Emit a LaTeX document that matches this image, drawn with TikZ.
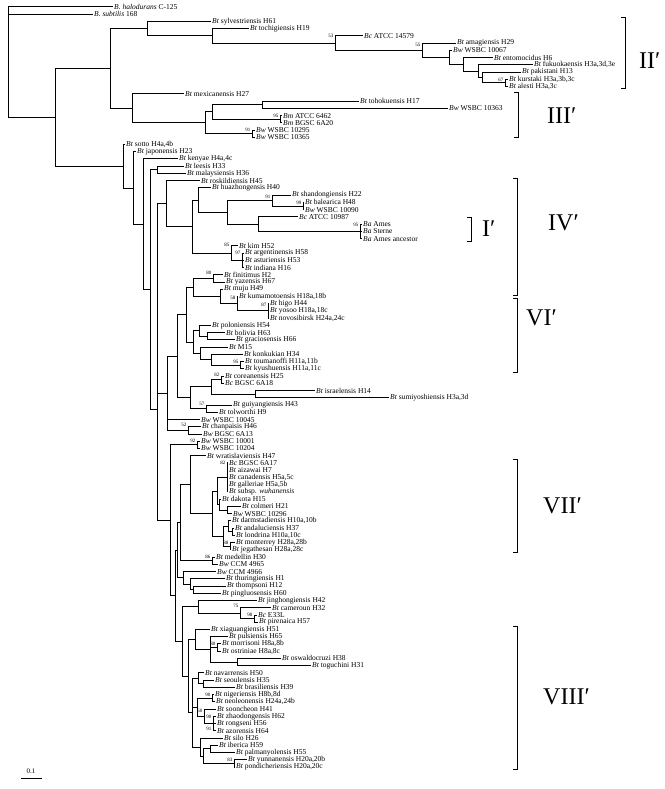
\documentclass[tikz,border=0pt]{standalone}
\usepackage{fontspec}
\setmainfont{Liberation Serif}
\newcommand{\lvy}[1]{7+7.238*(#1)}
\begin{document}
\begin{tikzpicture}[x=1pt,y=-1pt,
  lf/.style={anchor=west, inner sep=1pt, font=\fontsize{7.5}{8}\selectfont},
  bs/.style={anchor=east, inner sep=0.4pt, font=\fontsize{5}{6}\selectfont},
  tree/.style={line width=1pt},
  brk/.style={line width=0.9pt},
  cl/.style={anchor=west, inner sep=0pt, font=\fontsize{24}{26}\selectfont}]
\useasboundingbox (0,0) rectangle (664,789);
% ---------- leaves ----------
\node[lf] (hal) at (113,{\lvy{0}}) {\textit{B. halodurans} C-125};
\node[lf] (sub) at (93,{\lvy{1}}) {\textit{B. subtilis} 168};
\node[lf] (syl) at (211,{\lvy{2}}) {\textit{Bt} sylvestriensis H61};
\node[lf] (toc) at (249,{\lvy{3}}) {\textit{Bt} tochigiensis H19};
\node[lf] (bcA) at (363,{\lvy{4}}) {\textit{Bc} ATCC 14579};
\node[lf] (ama) at (456,{\lvy{5}}) {\textit{Bt} amagiensis H29};
\node[lf] (wA) at (452,{\lvy{6}}) {\textit{Bw} WSBC 10067};
\node[lf] (ent) at (493,{\lvy{7}}) {\textit{Bt} entomocidus H6};
\node[lf] (fuk) at (533,{\lvy{8}}) {\textit{Bt} fukuokaensis H3a,3d,3e};
\node[lf] (pak) at (521,{\lvy{9}}) {\textit{Bt} pakistani H13};
\node[lf] (kur) at (508,{\lvy{10}}) {\textit{Bt} kurstaki H3a,3b,3c};
\node[lf] (ale) at (508,{\lvy{11}}) {\textit{Bt} alesti H3a,3c};
\node[lf] (mex) at (184,{\lvy{12}}) {\textit{Bt} mexicanensis H27};
\node[lf] (toh) at (359,{\lvy{13}}) {\textit{Bt} tohokuensis H17};
\node[lf] (wB) at (448,{\lvy{14}}) {\textit{Bw} WSBC 10363};
\node[lf] (bmA) at (282,{\lvy{15}}) {\textit{Bm} ATCC 6462};
\node[lf] (bmB) at (282,{\lvy{16}}) {\textit{Bm} BGSC 6A20};
\node[lf] (wC) at (255,{\lvy{17}}) {\textit{Bw} WSBC 10295};
\node[lf] (wD) at (255,{\lvy{18}}) {\textit{Bw} WSBC 10365};
\node[lf] (sot) at (125,{\lvy{19}}) {\textit{Bt} sotto H4a,4b};
\node[lf] (jap) at (136,{\lvy{20}}) {\textit{Bt} japonensis H23};
\node[lf] (ken) at (178,{\lvy{21}}) {\textit{Bt} kenyae H4a,4c};
\node[lf] (lee) at (184,{\lvy{22}}) {\textit{Bt} leesis H33};
\node[lf] (mal) at (186,{\lvy{23}}) {\textit{Bt} malaysiensis H36};
\node[lf] (ros) at (200,{\lvy{24}}) {\textit{Bt} roskildiensis H45};
\node[lf] (hua) at (211,{\lvy{25}}) {\textit{Bt} huazhongensis H40};
\node[lf] (sha) at (291,{\lvy{26}}) {\textit{Bt} shandongiensis H22};
\node[lf] (bal) at (304,{\lvy{27}}) {\textit{Bt} balearica H48};
\node[lf] (wE) at (304,{\lvy{28}}) {\textit{Bw} WSBC 10090};
\node[lf] (bcB) at (298,{\lvy{29}}) {\textit{Bc} ATCC 10987};
\node[lf] (ames) at (362,{\lvy{30}}) {\textit{Ba} Ames};
\node[lf] (ste) at (362,{\lvy{31}}) {\textit{Ba} Sterne};
\node[lf] (anc) at (362,{\lvy{32}}) {\textit{Ba} Ames ancestor};
\node[lf] (kim) at (238,{\lvy{33}}) {\textit{Bt} kim H52};
\node[lf] (arg) at (244,{\lvy{34}}) {\textit{Bt} argentinensis H58};
\node[lf] (ast) at (244,{\lvy{35}}) {\textit{Bt} asturiensis H53};
\node[lf] (ind) at (244,{\lvy{36}}) {\textit{Bt} indiana H16};
\node[lf] (fin) at (223,{\lvy{37}}) {\textit{Bt} finitimus H2};
\node[lf] (yaz) at (225,{\lvy{38}}) {\textit{Bt} yazensis H67};
\node[lf] (muj) at (223,{\lvy{39}}) {\textit{Bt} muju H49};
\node[lf] (kum) at (238,{\lvy{40}}) {\textit{Bt} kumamotoensis H18a,18b};
\node[lf] (hig) at (269,{\lvy{41}}) {\textit{Bt} higo H44};
\node[lf] (yos) at (269,{\lvy{42}}) {\textit{Bt} yosoo H18a,18c};
\node[lf] (nov) at (269,{\lvy{43}}) {\textit{Bt} novosibirsk H24a,24c};
\node[lf] (pol) at (211,{\lvy{44}}) {\textit{Bt} poloniensis H54};
\node[lf] (bol) at (225,{\lvy{45}}) {\textit{Bt} bolivia H63};
\node[lf] (gra) at (235,{\lvy{46}}) {\textit{Bt} graciosensis H66};
\node[lf] (mfi) at (228,{\lvy{47}}) {\textit{Bt} M15};
\node[lf] (kon) at (243,{\lvy{48}}) {\textit{Bt} konkukian H34};
\node[lf] (tou) at (244,{\lvy{49}}) {\textit{Bt} toumanoffi H11a,11b};
\node[lf] (kyu) at (244,{\lvy{50}}) {\textit{Bt} kyushuensis H11a,11c};
\node[lf] (cor) at (224,{\lvy{51}}) {\textit{Bt} coreanensis H25};
\node[lf] (bcC) at (224,{\lvy{52}}) {\textit{Bc} BGSC 6A18};
\node[lf] (isr) at (315,{\lvy{53}}) {\textit{Bt} israelensis H14};
\node[lf] (sum) at (389,{\lvy{54}}) {\textit{Bt} sumiyoshiensis H3a,3d};
\node[lf] (gui) at (232,{\lvy{55}}) {\textit{Bt} guiyangiensis H43};
\node[lf] (tol) at (218,{\lvy{56}}) {\textit{Bt} tolworthi H9};
\node[lf] (wF) at (200,{\lvy{57}}) {\textit{Bw} WSBC 10045};
\node[lf] (cha) at (201,{\lvy{58}}) {\textit{Bt} chanpaisis H46};
\node[lf] (bwA) at (202,{\lvy{59}}) {\textit{Bw} BGSC 6A13};
\node[lf] (wG) at (200,{\lvy{60}}) {\textit{Bw} WSBC 10001};
\node[lf] (wH) at (200,{\lvy{61}}) {\textit{Bw} WSBC 10204};
\node[lf] (wra) at (206,{\lvy{62}}) {\textit{Bt} wratislaviensis H47};
\node[lf] (bcD) at (228,{\lvy{63}}) {\textit{Bc} BGSC 6A17};
\node[lf] (aiz) at (228,{\lvy{64}}) {\textit{Bt} aizawai H7};
\node[lf] (can) at (228,{\lvy{65}}) {\textit{Bt} canadensis H5a,5c};
\node[lf] (gal) at (228,{\lvy{66}}) {\textit{Bt} galleriae H5a,5b};
\node[lf] (wuh) at (228,{\lvy{67}}) {\textit{Bt} subsp. \textit{wuhanensis}};
\node[lf] (dak) at (221,{\lvy{68}}) {\textit{Bt} dakota H15};
\node[lf] (col) at (241,{\lvy{69}}) {\textit{Bt} colmeri H21};
\node[lf] (wI) at (232,{\lvy{70}}) {\textit{Bw} WSBC 10296};
\node[lf] (dar) at (231,{\lvy{71}}) {\textit{Bt} darmstadiensis H10a,10b};
\node[lf] (anda) at (234,{\lvy{72}}) {\textit{Bt} andaluciensis H37};
\node[lf] (lon) at (235,{\lvy{73}}) {\textit{Bt} londrina H10a,10c};
\node[lf] (mon) at (235,{\lvy{74}}) {\textit{Bt} monterrey H28a,28b};
\node[lf] (jeg) at (231,{\lvy{75}}) {\textit{Bt} jegathesan H28a,28c};
\node[lf] (med) at (215,{\lvy{76}}) {\textit{Bt} medellin H30};
\node[lf] (ccA) at (218,{\lvy{77}}) {\textit{Bw} CCM 4965};
\node[lf] (ccB) at (216,{\lvy{78}}) {\textit{Bw} CCM 4966};
\node[lf] (thu) at (225,{\lvy{79}}) {\textit{Bt} thuringiensis H1};
\node[lf] (thp) at (226,{\lvy{80}}) {\textit{Bt} thompsoni H12};
\node[lf] (pin) at (221,{\lvy{81}}) {\textit{Bt} pingluosensis H60};
\node[lf] (jin) at (257,{\lvy{82}}) {\textit{Bt} jinghongiensis H42};
\node[lf] (cam) at (271,{\lvy{83}}) {\textit{Bt} cameroun H32};
\node[lf] (eel) at (257,{\lvy{84}}) {\textit{Bc} E33L};
\node[lf] (pir) at (258,{\lvy{85}}) {\textit{Bt} pirenaica H57};
\node[lf] (xia) at (210,{\lvy{86}}) {\textit{Bt} xiaguangiensis H51};
\node[lf] (pul) at (228,{\lvy{87}}) {\textit{Bt} pulsiensis H65};
\node[lf] (mor) at (221,{\lvy{88}}) {\textit{Bt} morrisoni H8a,8b};
\node[lf] (ost) at (221,{\lvy{89}}) {\textit{Bt} ostriniae H8a,8c};
\node[lf] (osw) at (281,{\lvy{90}}) {\textit{Bt} oswaldocruzi H38};
\node[lf] (tog) at (311,{\lvy{91}}) {\textit{Bt} toguchini H31};
\node[lf] (nav) at (204,{\lvy{92}}) {\textit{Bt} navarrensis H50};
\node[lf] (seo) at (214,{\lvy{93}}) {\textit{Bt} seoulensis H35};
\node[lf] (bra) at (235,{\lvy{94}}) {\textit{Bt} brasiliensis H39};
\node[lf] (nig) at (214,{\lvy{95}}) {\textit{Bt} nigeriensis H8b,8d};
\node[lf] (neo) at (215,{\lvy{96}}) {\textit{Bt} neoleonensis H24a,24b};
\node[lf] (soo) at (216,{\lvy{97}}) {\textit{Bt} sooncheon H41};
\node[lf] (zha) at (216,{\lvy{98}}) {\textit{Bt} zhaodongensis H62};
\node[lf] (ron) at (216,{\lvy{99}}) {\textit{Bt} rongseni H56};
\node[lf] (azo) at (216,{\lvy{100}}) {\textit{Bt} azorensis H64};
\node[lf] (sil) at (223,{\lvy{101}}) {\textit{Bt} silo H26};
\node[lf] (ibe) at (218,{\lvy{102}}) {\textit{Bt} iberica H59};
\node[lf] (pal) at (235,{\lvy{103}}) {\textit{Bt} palmanyolensis H55};
\node[lf] (yun) at (247,{\lvy{104}}) {\textit{Bt} yunnanensis H20a,20b};
\node[lf] (pon) at (235,{\lvy{105}}) {\textit{Bt} pondicheriensis H20a,20c};
% ---------- internal nodes ----------
\coordinate (root) at (8,{\lvy{7.6}});
\coordinate (A) at (55,{\lvy{15.25}});
\coordinate (B) at (110,{\lvy{8.5}});
\coordinate (C) at (147,{\lvy{2.998}});
\coordinate (E) at (212,{\lvy{3.996}});
\coordinate (F) at (335,{\lvy{4.992}});
\coordinate (G) at (422,{\lvy{5.984}});
\coordinate (H) at (449,{\lvy{6.969}});
\coordinate (I) at (463,{\lvy{7.9375}});
\coordinate (J) at (478,{\lvy{8.875}});
\coordinate (K) at (482,{\lvy{9.75}});
\coordinate (L) at (505,{\lvy{10.5}});
\coordinate (D) at (132,{\lvy{14}});
\coordinate (M) at (205,{\lvy{16}});
\coordinate (O) at (212,{\lvy{14.5}});
\coordinate (N) at (262,{\lvy{13.5}});
\coordinate (P) at (280,{\lvy{15.5}});
\coordinate (Q) at (252,{\lvy{17.5}});
\coordinate (R) at (123,{\lvy{22.0}});
\coordinate (S) at (133,{\lvy{25.01}});
\coordinate (T) at (143,{\lvy{30.03}});
\coordinate (U) at (150,{\lvy{39.05}});
\coordinate (V) at (157,{\lvy{22.5}});
\coordinate (Wp) at (157,{\lvy{55.6}});
\coordinate (W) at (157,{\lvy{40.28}});
\coordinate (WA) at (166,{\lvy{27.17}});
\coordinate (XA) at (192,{\lvy{30.34}});
\coordinate (Y) at (198,{\lvy{26.69}});
\coordinate (YB) at (227,{\lvy{28.375}});
\coordinate (AB) at (272,{\lvy{26.75}});
\coordinate (AC) at (303,{\lvy{27.5}});
\coordinate (AA) at (258,{\lvy{30}});
\coordinate (nAm) at (360,{\lvy{31}});
\coordinate (Z) at (231,{\lvy{34}});
\coordinate (AD) at (242,{\lvy{35}});
\coordinate (Xg) at (167,{\lvy{53.38}});
\coordinate (Xh) at (177,{\lvy{48.27}});
\coordinate (VIab) at (186,{\lvy{42.53}});
\coordinate (VIa) at (193,{\lvy{38.75}});
\coordinate (fy) at (213,{\lvy{37.5}});
\coordinate (mm) at (220,{\lvy{40}});
\coordinate (km) at (237,{\lvy{41}});
\coordinate (kh) at (268,{\lvy{42}});
\coordinate (VIb) at (193,{\lvy{46.31}});
\coordinate (pbg) at (199,{\lvy{44.75}});
\coordinate (bg) at (207,{\lvy{45.5}});
\coordinate (mkt) at (200,{\lvy{47.875}});
\coordinate (ktk) at (211,{\lvy{48.75}});
\coordinate (tk) at (240,{\lvy{49.5}});
\coordinate (Xi) at (190,{\lvy{54}});
\coordinate (cb) at (211,{\lvy{52.5}});
\coordinate (nbA) at (221,{\lvy{51.5}});
\coordinate (isn) at (255,{\lvy{53.5}});
\coordinate (nfs) at (206,{\lvy{55.5}});
\coordinate (ch) at (188,{\lvy{58.5}});
\coordinate (Xj) at (170,{\lvy{70.93}});
\coordinate (nnt) at (197,{\lvy{60.5}});
\coordinate (Xk) at (175,{\lvy{81.36}});
\coordinate (Xl) at (177,{\lvy{75.06}});
\coordinate (Xm) at (180,{\lvy{71.25}});
\coordinate (Xn) at (190,{\lvy{66}});
\coordinate (Xo) at (212,{\lvy{70}});
\coordinate (ga) at (217,{\lvy{66.875}});
\coordinate (nbB) at (227,{\lvy{65}});
\coordinate (dcw) at (219,{\lvy{68.75}});
\coordinate (dcwa) at (227,{\lvy{69.5}});
\coordinate (dm) at (223,{\lvy{73.125}});
\coordinate (dd) at (228,{\lvy{71.75}});
\coordinate (alo) at (232,{\lvy{72.5}});
\coordinate (nee) at (230,{\lvy{74.5}});
\coordinate (nes) at (212,{\lvy{76.5}});
\coordinate (Ct) at (183,{\lvy{78.875}});
\coordinate (tt) at (190,{\lvy{79.75}});
\coordinate (tp) at (193,{\lvy{80.5}});
\coordinate (Xp) at (182,{\lvy{87.66}});
\coordinate (jg) at (198,{\lvy{82.875}});
\coordinate (nsf) at (240,{\lvy{83.75}});
\coordinate (ce) at (254,{\lvy{84.5}});
\coordinate (Xq) at (188,{\lvy{92.44}});
\coordinate (xp) at (195,{\lvy{87.375}});
\coordinate (pmo) at (210,{\lvy{88.75}});
\coordinate (nei) at (217,{\lvy{88.5}});
\coordinate (ot) at (237,{\lvy{90.5}});
\coordinate (nog) at (192,{\lvy{97.5}});
\coordinate (nsb) at (198,{\lvy{92.75}});
\coordinate (sb) at (203,{\lvy{93.5}});
\coordinate (nns) at (197,{\lvy{96.75}});
\coordinate (nni) at (212,{\lvy{95.5}});
\coordinate (nsi) at (204,{\lvy{98}});
\coordinate (nnb) at (213,{\lvy{99}});
\coordinate (nsl) at (200,{\lvy{102.25}});
\coordinate (nto) at (203,{\lvy{103.5}});
\coordinate (ip) at (210,{\lvy{102.5}});
\coordinate (nea) at (234,{\lvy{104.5}});
% ---------- branches ----------
\draw[tree] (root) |- (hal.west) (root) |- (sub.west) (root) |- (A);
\draw[tree] (A) |- (B) (A) |- (R);
\draw[tree] (B) |- (C) (B) |- (D);
\draw[tree] (C) |- (syl.west) (C) |- (E);
\draw[tree] (E) |- (toc.west) (E) |- (F);
\draw[tree] (F) |- (bcA.west) (F) |- (G);
\draw[tree] (G) |- (ama.west) (G) |- (H);
\draw[tree] (H) |- (wA.west) (H) |- (I);
\draw[tree] (I) |- (ent.west) (I) |- (J);
\draw[tree] (J) |- (fuk.west) (J) |- (K);
\draw[tree] (K) |- (pak.west) (K) |- (L);
\draw[tree] (L) |- (kur.west) (L) |- (ale.west);
\draw[tree] (D) |- (mex.west) (D) |- (M);
\draw[tree] (M) |- (O) (M) |- (Q);
\draw[tree] (O) |- (N) (O) |- (P);
\draw[tree] (N) |- (toh.west) (N) |- (wB.west);
\draw[tree] (P) |- (bmA.west) (P) |- (bmB.west);
\draw[tree] (Q) |- (wC.west) (Q) |- (wD.west);
\draw[tree] (R) |- (sot.west) (R) |- (S);
\draw[tree] (S) |- (jap.west) (S) |- (T);
\draw[tree] (T) |- (ken.west) (T) |- (U);
\draw[tree] (U) |- (V) (U) |- (Wp);
\draw[tree] (V) |- (lee.west) (V) |- (mal.west);
\draw[tree] (Wp) |- (W) (Wp) |- (Xj);
\draw[tree] (W) |- (WA) (W) |- (Xg);
\draw[tree] (WA) |- (ros.west) (WA) |- (XA);
\draw[tree] (XA) |- (Y) (XA) |- (Z);
\draw[tree] (Y) |- (hua.west) (Y) |- (YB);
\draw[tree] (YB) |- (AB) (YB) |- (AA);
\draw[tree] (AB) |- (sha.west) (AB) |- (AC);
\draw[tree] (AC) |- (bal.west) (AC) |- (wE.west);
\draw[tree] (AA) |- (bcB.west) (AA) |- (nAm);
\draw[tree] (nAm) |- (ames.west) (nAm) |- (ste.west) (nAm) |- (anc.west);
\draw[tree] (Z) |- (kim.west) (Z) |- (AD);
\draw[tree] (AD) |- (arg.west) (AD) |- (ast.west) (AD) |- (ind.west);
\draw[tree] (Xg) |- (Xh) (Xg) |- (wF.west) (Xg) |- (ch);
\draw[tree] (Xh) |- (VIab) (Xh) |- (Xi);
\draw[tree] (VIab) |- (VIa) (VIab) |- (VIb);
\draw[tree] (VIa) |- (fy) (VIa) |- (mm);
\draw[tree] (fy) |- (fin.west) (fy) |- (yaz.west);
\draw[tree] (mm) |- (muj.west) (mm) |- (km);
\draw[tree] (km) |- (kum.west) (km) |- (kh);
\draw[tree] (kh) |- (hig.west) (kh) |- (yos.west) (kh) |- (nov.west);
\draw[tree] (VIb) |- (pbg) (VIb) |- (mkt);
\draw[tree] (pbg) |- (pol.west) (pbg) |- (bg);
\draw[tree] (bg) |- (bol.west) (bg) |- (gra.west);
\draw[tree] (mkt) |- (mfi.west) (mkt) |- (ktk);
\draw[tree] (ktk) |- (kon.west) (ktk) |- (tk);
\draw[tree] (tk) |- (tou.west) (tk) |- (kyu.west);
\draw[tree] (Xi) |- (cb) (Xi) |- (nfs);
\draw[tree] (cb) |- (nbA) (cb) |- (isn);
\draw[tree] (nbA) |- (cor.west) (nbA) |- (bcC.west);
\draw[tree] (isn) |- (isr.west) (isn) |- (sum.west);
\draw[tree] (nfs) |- (gui.west) (nfs) |- (tol.west);
\draw[tree] (ch) |- (cha.west) (ch) |- (bwA.west);
\draw[tree] (Xj) |- (nnt) (Xj) |- (Xk);
\draw[tree] (nnt) |- (wG.west) (nnt) |- (wH.west);
\draw[tree] (Xk) |- (Xl) (Xk) |- (Xp);
\draw[tree] (Xl) |- (Xm) (Xl) |- (Ct);
\draw[tree] (Xm) |- (Xn) (Xm) |- (nes);
\draw[tree] (Xn) |- (wra.west) (Xn) |- (Xo);
\draw[tree] (Xo) |- (ga) (Xo) |- (dm);
\draw[tree] (ga) |- (nbB) (ga) |- (dcw);
\draw[tree] (nbB) |- (bcD.west) (nbB) |- (aiz.west) (nbB) |- (can.west) (nbB) |- (gal.west) (nbB) |- (wuh.west);
\draw[tree] (dcw) |- (dak.west) (dcw) |- (dcwa);
\draw[tree] (dcwa) |- (col.west) (dcwa) |- (wI.west);
\draw[tree] (dm) |- (dd) (dm) |- (nee);
\draw[tree] (dd) |- (dar.west) (dd) |- (alo);
\draw[tree] (alo) |- (anda.west) (alo) |- (lon.west);
\draw[tree] (nee) |- (mon.west) (nee) |- (jeg.west);
\draw[tree] (nes) |- (med.west) (nes) |- (ccA.west);
\draw[tree] (Ct) |- (ccB.west) (Ct) |- (tt);
\draw[tree] (tt) |- (thu.west) (tt) |- (tp);
\draw[tree] (tp) |- (thp.west) (tp) |- (pin.west);
\draw[tree] (Xp) |- (jg) (Xp) |- (Xq);
\draw[tree] (jg) |- (jin.west) (jg) |- (nsf);
\draw[tree] (nsf) |- (cam.west) (nsf) |- (ce);
\draw[tree] (ce) |- (eel.west) (ce) |- (pir.west);
\draw[tree] (Xq) |- (xp) (Xq) |- (nog);
\draw[tree] (xp) |- (xia.west) (xp) |- (pmo);
\draw[tree] (pmo) |- (pul.west) (pmo) |- (nei) (pmo) |- (ot);
\draw[tree] (nei) |- (mor.west) (nei) |- (ost.west);
\draw[tree] (ot) |- (osw.west) (ot) |- (tog.west);
\draw[tree] (nog) |- (nsb) (nog) |- (nns) (nog) |- (nsl);
\draw[tree] (nsb) |- (nav.west) (nsb) |- (sb);
\draw[tree] (sb) |- (seo.west) (sb) |- (bra.west);
\draw[tree] (nns) |- (nni) (nns) |- (nsi);
\draw[tree] (nni) |- (nig.west) (nni) |- (neo.west);
\draw[tree] (nsi) |- (soo.west) (nsi) |- (nnb);
\draw[tree] (nnb) |- (zha.west) (nnb) |- (ron.west) (nnb) |- (azo.west);
\draw[tree] (nsl) |- (sil.west) (nsl) |- (nto);
\draw[tree] (nto) |- (ip) (nto) |- (nea);
\draw[tree] (ip) |- (ibe.west) (ip) |- (pal.west);
\draw[tree] (nea) |- (yun.west) (nea) |- (pon.west);
% ---------- bootstrap values ----------
\node[bs] (b1) at (334,{\lvy{4}}) {53};
\node[bs] (b2) at (421,{\lvy{5.2}}) {55};
\node[bs] (b3) at (504,{\lvy{10}}) {67};
\node[bs] (b4) at (279,{\lvy{15}}) {95};
\node[bs] (b5) at (251,{\lvy{17}}) {91};
\node[bs] (b6) at (271,{\lvy{26.2}}) {91};
\node[bs] (b7) at (302,{\lvy{27}}) {99};
\node[bs] (b8) at (359,{\lvy{30.1}}) {95};
\node[bs] (b9) at (230,{\lvy{32.8}}) {85};
\node[bs] (b10) at (241,{\lvy{34}}) {97};
\node[bs] (b11) at (212,{\lvy{36.8}}) {80};
\node[bs] (b12) at (236,{\lvy{40.2}}) {58};
\node[bs] (b13) at (267,{\lvy{41.2}}) {87};
\node[bs] (b14) at (239,{\lvy{49}}) {95};
\node[bs] (b15) at (220,{\lvy{50.8}}) {82};
\node[bs] (b16) at (205,{\lvy{54.8}}) {57};
\node[bs] (b17) at (187,{\lvy{57.8}}) {52};
\node[bs] (b18) at (196,{\lvy{60}}) {92};
\node[bs] (b19) at (226,{\lvy{63}}) {82};
\node[bs] (b20) at (229,{\lvy{74}}) {88};
\node[bs] (b21) at (211,{\lvy{76}}) {86};
\node[bs] (b22) at (239,{\lvy{82.7}}) {75};
\node[bs] (b23) at (253,{\lvy{84}}) {98};
\node[bs] (b24) at (216,{\lvy{88}}) {80};
\node[bs] (b25) at (211,{\lvy{95}}) {90};
\node[bs] (b26) at (203,{\lvy{97.2}}) {60};
\node[bs] (b27) at (212,{\lvy{98.1}}) {90};
\node[bs] (b28) at (212,{\lvy{99.8}}) {91};
\node[bs] (b29) at (233,{\lvy{104}}) {83};
% ---------- cluster brackets ----------
\draw[brk] (621,17) -- (625,17) -- (625,88) -- (621,88);
\node[cl] (c2) at (639,61) {II′};
\draw[brk] (514,92) -- (518,92) -- (518,137) -- (514,137);
\node[cl] (c3) at (547,116) {III′};
\draw[brk] (467,217) -- (471,217) -- (471,241) -- (467,241);
\node[cl] (c1) at (482,229) {I′};
\draw[brk] (513,178) -- (517,178) -- (517,295) -- (513,295);
\node[cl] (c4) at (548,223) {IV′};
\draw[brk] (513,298) -- (517,298) -- (517,372) -- (513,372);
\node[cl] (c6) at (526,318) {VI′};
\draw[brk] (513,459) -- (517,459) -- (517,552) -- (513,552);
\node[cl] (c7) at (543,506) {VII′};
\draw[brk] (513,626) -- (517,626) -- (517,769) -- (513,769);
\node[cl] (c8) at (543,697) {VIII′};
% ---------- scale bar ----------
\node[font=\fontsize{7}{8}\selectfont, inner sep=0pt] (sc) at (31,771) {0.1};
\draw[tree] (21,778) -- (42,778);
\end{tikzpicture}
\end{document}
